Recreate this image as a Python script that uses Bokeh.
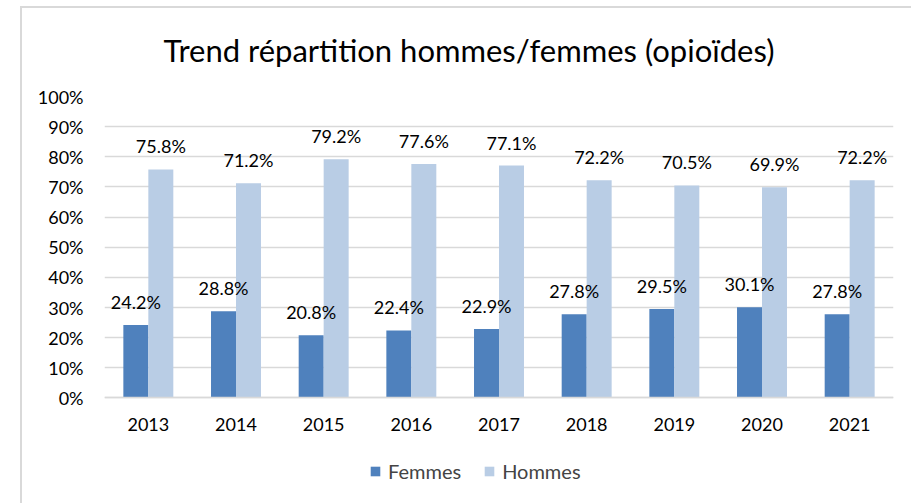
from bokeh.plotting import figure
from bokeh.models import (ColumnDataSource, FactorRange, LabelSet, Legend, LegendItem,
                          FixedTicker, PrintfTickFormatter, InlineStyleSheet, Range1d)
from bokeh.core.properties import value
from bokeh.transform import dodge
from bokeh.embed import file_html
from bokeh.resources import INLINE

years = ["2013", "2014", "2015", "2016", "2017", "2018", "2019", "2020", "2021"]
femmes = [24.2, 28.8, 20.8, 22.4, 22.9, 27.8, 29.5, 30.1, 27.8]
hommes = [75.8, 71.2, 79.2, 77.6, 77.1, 72.2, 70.5, 69.9, 72.2]
y_ticks = [0, 10, 20, 30, 40, 50, 60, 70, 80, 90, 100]

FONT = "Lato"
C_F = "#4F81BD"
C_H = "#B9CDE5"
GRID = "#D9D9D9"

src = ColumnDataSource(dict(
    years=years, femmes=femmes, hommes=hommes,
    flab=[f"{v:.1f}%" for v in femmes],
    hlab=[f"{v:.1f}%" for v in hommes],
))

# frame extends below 0 so that the axis labels and legend live inside it
p = figure(x_range=FactorRange(*years, range_padding=0), y_range=Range1d(-35, 100),
           width=911, height=503, output_backend="svg", toolbar_location=None,
           min_border_left=104, min_border_right=18, min_border_top=94, min_border_bottom=0)
p.stylesheets = [InlineStyleSheet(css=(
    ":host::after {content: ''; position: absolute; left: 20px; top: 6px; "
    "width: 900px; height: 600px; border-left: 2px solid #D9D9D9; "
    "border-top: 2px solid #D9D9D9; pointer-events: none; z-index: 5;}"
))]
p.outline_line_color = None
p.background_fill_color = "white"
p.border_fill_color = "white"

bw = 0.285
rf = p.vbar(x=dodge("years", -bw / 2, range=p.x_range), top="femmes", width=bw,
            source=src, color=C_F, line_color=None)
rh = p.vbar(x=dodge("years", bw / 2, range=p.x_range), top="hommes", width=bw,
            source=src, color=C_H, line_color=None)

for col, lab, off in (("femmes", "flab", -bw / 2), ("hommes", "hlab", bw / 2)):
    ls = LabelSet(x=dodge("years", off, range=p.x_range), y=col, text=lab, source=src,
                  text_align="center", text_baseline="alphabetic", y_offset=16,
                  text_font=value(FONT), text_font_size="18px", text_color="#000000")
    p.add_layout(ls)

p.yaxis.ticker = FixedTicker(ticks=y_ticks)
p.yaxis.formatter = PrintfTickFormatter(format="%d%%")
p.ygrid.ticker = FixedTicker(ticks=y_ticks)
p.ygrid.grid_line_color = GRID
p.ygrid.grid_line_width = 1.5
p.xgrid.grid_line_color = None

for ax in (p.xaxis, p.yaxis):
    ax.major_tick_line_color = None
    ax.minor_tick_line_color = None
    ax.major_label_text_font = FONT
    ax.major_label_text_font_size = "18px"
    ax.major_label_text_color = "#000000"
p.yaxis.axis_line_color = None
p.yaxis.major_label_standoff = 15
p.xaxis.fixed_location = 0
p.xaxis.axis_line_color = GRID
p.xaxis.axis_line_width = 1.5
p.xaxis.major_label_standoff = 14

p.title.text = "Trend répartition hommes/femmes (opioïdes)"
p.title.align = "left"
p.title.offset = 59
p.title.standoff = 56
p.title.text_font = FONT
p.title.text_font_size = "31px"
p.title.text_font_style = "normal"
p.title.text_color = "#000000"

legend = Legend(items=[LegendItem(label="Femmes", renderers=[rf]),
                       LegendItem(label="Hommes", renderers=[rh])],
                orientation="horizontal", location=(265, 20), margin=0, padding=10,
                glyph_width=12, glyph_height=12, label_text_font=FONT,
                label_text_font_size="20px", label_standoff=7, spacing=22,
                border_line_color=None, background_fill_alpha=0)
p.add_layout(legend, "center")

open("out.html", "w").write(file_html(p, INLINE))
